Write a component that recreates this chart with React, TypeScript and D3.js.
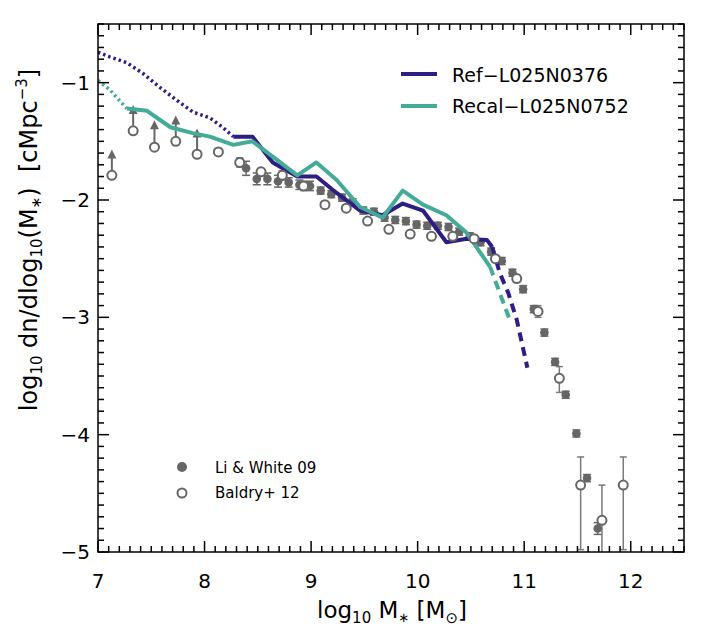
import React from "react";
import * as d3 from "d3";

// simulation mass functions (log10 M*, log10 phi)
const refDotted = [[7.0, -0.74], [7.11, -0.78], [7.27, -0.83], [7.42, -0.92], [7.58, -1.04], [7.74, -1.15], [7.89, -1.25], [8.05, -1.3], [8.17, -1.38], [8.27, -1.46]];
const refSolid = [[8.27, -1.46], [8.45, -1.46], [8.64, -1.68], [8.87, -1.8], [9.05, -1.8], [9.24, -1.94], [9.46, -2.09], [9.67, -2.13], [9.86, -2.03], [10.05, -2.09], [10.27, -2.36], [10.46, -2.33], [10.65, -2.34], [10.7, -2.4]];
const refDashed = [[10.7, -2.4], [10.77, -2.62], [10.85, -2.79], [10.93, -3.02], [11.03, -3.43]];

const recalDotted = [[7.0, -0.98], [7.11, -1.06], [7.27, -1.22]];
const recalSolid = [[7.27, -1.22], [7.46, -1.24], [7.68, -1.38], [7.89, -1.43], [8.05, -1.46], [8.27, -1.53], [8.45, -1.5], [8.64, -1.63], [8.87, -1.79], [9.05, -1.68], [9.24, -1.83], [9.46, -2.06], [9.67, -2.15], [9.86, -1.92], [10.05, -2.04], [10.27, -2.13], [10.46, -2.28], [10.68, -2.57]];
const recalDashed = [[10.68, -2.57], [10.86, -3.01]];

// Li & White 09
const lwX = [8.39, 8.49, 8.59, 8.69, 8.79, 8.89, 8.99, 9.09, 9.19, 9.29, 9.39, 9.49, 9.59, 9.69, 9.79, 9.89, 9.99, 10.09, 10.19, 10.29, 10.39, 10.49, 10.59, 10.69, 10.79, 10.89, 10.99, 11.09, 11.19, 11.29, 11.39, 11.49, 11.59, 11.69];
const lwY = [-1.73, -1.82, -1.82, -1.84, -1.85, -1.87, -1.88, -1.92, -1.95, -1.98, -2.02, -2.09, -2.1, -2.15, -2.17, -2.18, -2.21, -2.22, -2.22, -2.23, -2.27, -2.31, -2.36, -2.44, -2.52, -2.62, -2.76, -2.93, -3.13, -3.38, -3.66, -3.99, -4.37, -4.8];
const lwErr = [0.06, 0.05, 0.05, 0.05, 0.04, 0.04, 0.04, 0.03, 0.03, 0.03, 0.03, 0.03, 0.03, 0.03, 0.03, 0.03, 0.03, 0.03, 0.03, 0.03, 0.03, 0.03, 0.03, 0.03, 0.03, 0.03, 0.03, 0.03, 0.03, 0.03, 0.03, 0.03, 0.03, 0.05];

// Baldry+ 12 (first five are lower limits)
const bdX = [7.13, 7.33, 7.53, 7.73, 7.93, 8.13, 8.33, 8.53, 8.73, 8.93, 9.13, 9.33, 9.53, 9.73, 9.93, 10.13, 10.33, 10.53, 10.73, 10.93, 11.13, 11.33, 11.53, 11.73, 11.93];
const bdY = [-1.79, -1.41, -1.55, -1.5, -1.61, -1.59, -1.68, -1.76, -1.79, -1.88, -2.04, -2.07, -2.18, -2.25, -2.29, -2.31, -2.31, -2.33, -2.5, -2.67, -2.95, -3.52, -4.43, -4.73, -4.43];
const bdErrHi = [0, 0, 0, 0, 0, 0.03, 0.04, 0.03, 0.04, 0.04, 0.02, 0.02, 0.02, 0.02, 0.02, 0.02, 0.02, 0.02, 0.02, 0.03, 0.05, 0.1, 0.24, 0.3, 0.24];
const bdErrLo = [0, 0, 0, 0, 0, 0.03, 0.04, 0.03, 0.04, 0.04, 0.02, 0.02, 0.02, 0.02, 0.02, 0.02, 0.02, 0.02, 0.02, 0.03, 0.05, 0.12, 0.55, 0.5, 0.55];
const bdLimitTip = [-1.57, -1.19, -1.32, -1.28, -1.39];

const xTicks = [7, 8, 9, 10, 11, 12];
const yTicks = [-1, -2, -3, -4, -5];

const W = 728, H = 629;
const BLUE = "#2d1e84";
const TEAL = "#45ab98";
const GREY = "#666666";
const FONT = "DejaVu Sans, sans-serif";

export default function App() {
  const x = d3.scaleLinear().domain([7, 12.5]).range([98, 684]);
  const y = d3.scaleLinear().domain([-5, -0.5]).range([552, 24]);
  const [x0, x1] = x.range();
  const [y0, y1] = y.range();

  const line = d3.line<number[]>().x((d) => x(d[0])).y((d) => y(d[1]));

  const xMinor = d3.range(70, 126).map((v) => v / 10);
  const yMinor = d3.range(-50, -4).map((v) => v / 10);

  const ticks: JSX.Element[] = [];
  xMinor.forEach((v, i) => {
    const major = Math.abs(v - Math.round(v)) < 1e-6;
    const len = major ? 11 : 6;
    ticks.push(<line key={"xb" + i} x1={x(v)} x2={x(v)} y1={y0} y2={y0 - len} />);
    ticks.push(<line key={"xt" + i} x1={x(v)} x2={x(v)} y1={y1} y2={y1 + len} />);
  });
  yMinor.forEach((v, i) => {
    const major = Math.abs(v - Math.round(v)) < 1e-6;
    const len = major ? 11 : 6;
    ticks.push(<line key={"yl" + i} x1={x0} x2={x0 + len} y1={y(v)} y2={y(v)} />);
    ticks.push(<line key={"yr" + i} x1={x1} x2={x1 - len} y1={y(v)} y2={y(v)} />);
  });

  return (
    <svg width={W} height={H} style={{ position: "absolute", left: 0, top: 0, background: "#fff" }} fontFamily={FONT}>
      <defs>
        <clipPath id="plot">
          <rect x={x0} y={y1} width={x1 - x0} height={y0 - y1} />
        </clipPath>
      </defs>

      <g clipPath="url(#plot)">
        {/* Baldry error bars and limits */}
        {bdX.map((v, i) => {
          if (i < bdLimitTip.length) {
            const cx = x(v), top = y(bdLimitTip[i]);
            return (
              <g key={"bl" + i} stroke={GREY} fill={GREY}>
                <line x1={cx} x2={cx} y1={y(bdY[i]) - 5} y2={top + 8} strokeWidth={2} />
                <path d={`M${cx - 4.5},${top + 9}L${cx},${top}L${cx + 4.5},${top + 9}Z`} stroke="none" />
              </g>
            );
          }
          const cx = x(v), a = y(bdY[i] + bdErrHi[i]), b = y(bdY[i] - bdErrLo[i]);
          return (
            <g key={"be" + i} stroke="#7a7a7a" strokeWidth={1.5}>
              <line x1={cx} x2={cx} y1={a} y2={b} />
              <line x1={cx - 3.5} x2={cx + 3.5} y1={a} y2={a} />
              <line x1={cx - 3.5} x2={cx + 3.5} y1={b} y2={b} />
            </g>
          );
        })}

        {/* Li & White points */}
        {lwX.map((v, i) => {
          const cx = x(v), a = y(lwY[i] + lwErr[i]), b = y(lwY[i] - lwErr[i]);
          return (
            <g key={"lw" + i}>
              <g stroke={GREY} strokeWidth={1.5}>
                <line x1={cx} x2={cx} y1={a} y2={b} />
                <line x1={cx - 4} x2={cx + 4} y1={a} y2={a} />
                <line x1={cx - 4} x2={cx + 4} y1={b} y2={b} />
              </g>
              <circle cx={cx} cy={y(lwY[i])} r={4.3} fill={GREY} />
            </g>
          );
        })}

        {/* simulation lines */}
        <g fill="none">
          <path d={line(refDotted) ?? ""} stroke={BLUE} strokeWidth={3.5} strokeDasharray="2.5,3" />
          <path d={line(recalDotted) ?? ""} stroke={TEAL} strokeWidth={3.5} strokeDasharray="2.5,3" />
          <path d={line(refSolid) ?? ""} stroke={BLUE} strokeWidth={4} strokeLinejoin="round" />
          <path d={line(recalSolid) ?? ""} stroke={TEAL} strokeWidth={4} strokeLinejoin="round" />
          <path d={line(refDashed) ?? ""} stroke={BLUE} strokeWidth={4} strokeDasharray="9,6" />
          <path d={line(recalDashed) ?? ""} stroke={TEAL} strokeWidth={4} strokeDasharray="9,6" />
        </g>

        {/* Baldry open circles */}
        {bdX.map((v, i) => (
          <circle key={"bc" + i} cx={x(v)} cy={y(bdY[i])} r={4.5} fill="#fff" stroke={GREY} strokeWidth={2} />
        ))}
      </g>

      {/* frame and ticks */}
      <g stroke="#000" strokeWidth={1.5}>
        {ticks}
        <rect x={x0} y={y1} width={x1 - x0} height={y0 - y1} fill="none" />
      </g>

      {/* tick labels */}
      <g fontSize={20} fill="#000">
        {xTicks.map((v) => (
          <text key={"xl" + v} x={x(v)} y={588} textAnchor="middle">{v}</text>
        ))}
        {yTicks.map((v) => (
          <text key={"yl" + v} x={90} y={y(v) + 7} textAnchor="end">{"\u2212" + Math.abs(v)}</text>
        ))}
      </g>

      {/* axis titles */}
      <text x={392} y={618} fontSize={23} textAnchor="middle">
        log<tspan fontSize={15} dy={5}>10</tspan>
        <tspan dy={-5}>{"\u00a0M"}</tspan>
        <tspan fontSize={13} dy={4}>∗</tspan>
        <tspan dy={-4}>{"\u00a0[M"}</tspan>
        <tspan fontSize={15} dy={5}>⊙</tspan>
        <tspan dy={-5}>]</tspan>
      </text>
      <text transform="translate(37,240) rotate(-90)" fontSize={24} textAnchor="middle">
        log<tspan fontSize={15} dy={5}>10</tspan>
        <tspan dy={-5}>{"\u00a0dn/dlog"}</tspan>
        <tspan fontSize={15} dy={5}>10</tspan>
        <tspan dy={-5}>(M</tspan>
        <tspan fontSize={14} dy={4}>∗</tspan>
        <tspan dy={-4}>{")\u00a0\u00a0[cMpc"}</tspan>
        <tspan fontSize={15} dy={-10}>−3</tspan>
        <tspan dy={10}>]</tspan>
      </text>

      {/* line legend */}
      <g fontSize={19}>
        <line x1={401} x2={437} y1={74} y2={74} stroke={BLUE} strokeWidth={4} />
        <text x={452} y={82}>Ref−L025N0376</text>
        <line x1={401} x2={437} y1={106} y2={106} stroke={TEAL} strokeWidth={4} />
        <text x={452} y={113}>Recal−L025N0752</text>
      </g>

      {/* point legend */}
      <g fontSize={15}>
        <circle cx={182} cy={467} r={5} fill={GREY} />
        <text x={215} y={473}>Li &amp; White 09</text>
        <circle cx={182} cy={493} r={4.5} fill="#fff" stroke={GREY} strokeWidth={2} />
        <text x={215} y={498}>Baldry+ 12</text>
      </g>
    </svg>
  );
}
